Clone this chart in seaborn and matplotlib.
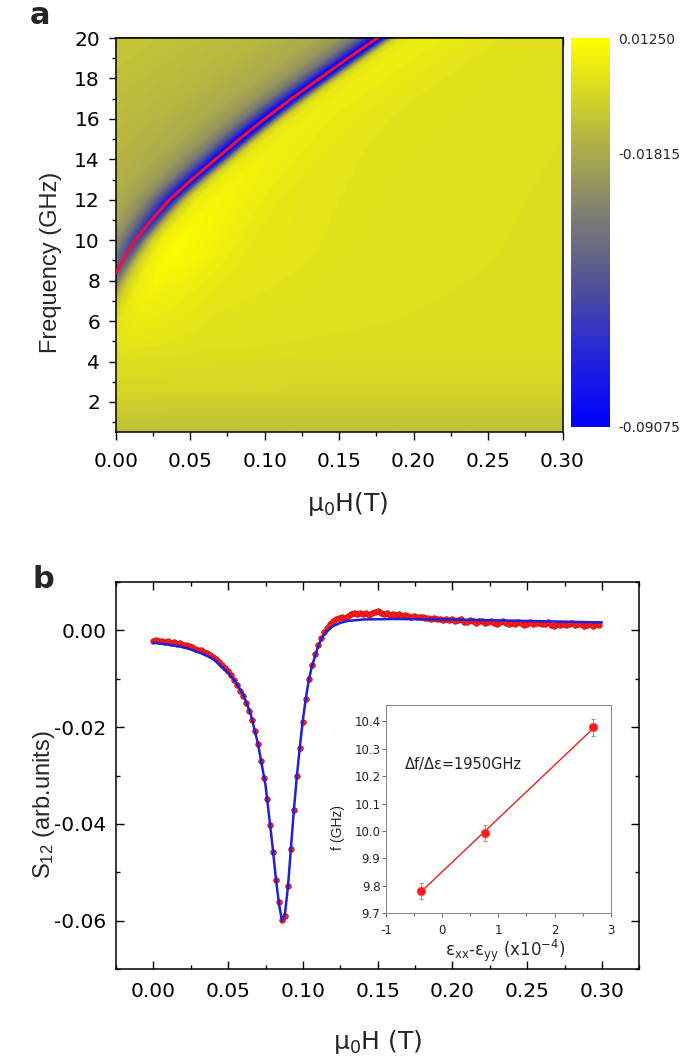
import matplotlib
matplotlib.use("Agg")
import matplotlib.pyplot as plt
import numpy as np
import seaborn as sns
from matplotlib.colors import LinearSegmentedColormap
from matplotlib.ticker import MultipleLocator, FormatStrFormatter

# ---------------- panel a : S12 map ----------------
# resonance line (red)
res_field = [0.0, 0.004, 0.013, 0.024, 0.036, 0.051, 0.067, 0.083, 0.100, 0.118, 0.137, 0.156, 0.1756, 0.182]
res_freq = [8.35, 8.9, 10.0, 11.0, 12.0, 13.0, 14.0, 15.0, 16.0, 17.0, 18.0, 19.0, 20.0, 20.3]

# S12 across the resonance: field offset from the line (T) -> value
prof_offset = [-0.30, -0.15, -0.08, -0.04, -0.025, -0.015, -0.008, -0.004, -0.001, 0.002,
               0.005, 0.008, 0.012, 0.018, 0.03, 0.05, 0.08, 0.15, 0.30]
prof_value = [-0.006, -0.009, -0.013, -0.018, -0.025, -0.037, -0.058, -0.078, -0.090, -0.088,
              -0.065, -0.030, -0.004, 0.006, 0.009, 0.007, 0.003, 0.001, 0.0]

# depth of the dip and strength of the bright lobe vs frequency
depth_freq = [0.5, 4.0, 6.0, 8.0, 9.0, 10.0, 12.0, 14.0, 16.0, 20.0]
dip_depth = [0.3, 0.3, 0.35, 0.45, 0.55, 0.65, 0.85, 0.97, 1.0, 1.0]
lobe_gain = [0.0, 0.1, 0.6, 1.0, 1.2, 1.2, 1.0, 0.8, 0.7, 0.7]

# background level vs frequency
base_freq = [0.5, 1.0, 1.5, 2.0, 2.5, 3.5, 5.0, 20.0]
base_level = [-0.010, -0.009, -0.007, -0.005, -0.003, -0.001, 0.0, 0.0]

cbar_ticks = [0.01250, -0.01815, -0.09075]

# ---------------- panel b : S12 trace ----------------
s12_field = np.round(np.arange(0, 0.2981, 0.002), 3)
s12_meas = [
    -0.0022, -0.0021, -0.0023, -0.0022, -0.0024, -0.0023, -0.0026, -0.0025, -0.0028, -0.0027,
    -0.0030, -0.0031, -0.0033, -0.0034, -0.0038, -0.0040, -0.0042, -0.0045, -0.0048, -0.0052,
    -0.0056, -0.0060, -0.0066, -0.0071, -0.0078, -0.0085, -0.0093, -0.0103, -0.0114, -0.0125,
    -0.0136, -0.0150, -0.0166, -0.0186, -0.0208, -0.0236, -0.0270, -0.0306, -0.0348, -0.0402,
    -0.0458, -0.0515, -0.0562, -0.0598, -0.0590, -0.0528, -0.0452, -0.0372, -0.0300, -0.0243,
    -0.0190, -0.0142, -0.0101, -0.0072, -0.0050, -0.0030, -0.0016, -0.0004, 0.0004, 0.0012,
    0.0018, 0.0022, 0.0025, 0.0027, 0.0026, 0.0030, 0.0033, 0.0035, 0.0034, 0.0036,
    0.0033, 0.0035, 0.0032, 0.0036, 0.0037, 0.0039, 0.0036, 0.0034, 0.0035, 0.0032,
    0.0034, 0.0031, 0.0033, 0.0030, 0.0032, 0.0029, 0.0028, 0.0030, 0.0027, 0.0028,
    0.0028, 0.0025, 0.0026, 0.0024, 0.0026, 0.0022, 0.0023, 0.0021, 0.0024, 0.0020,
    0.0022, 0.0019, 0.0021, 0.0022, 0.0017, 0.0016, 0.0020, 0.0018, 0.0015, 0.0018,
    0.0019, 0.0014, 0.0017, 0.0019, 0.0015, 0.0013, 0.0016, 0.0018, 0.0014, 0.0012,
    0.0015, 0.0013, 0.0017, 0.0014, 0.0010, 0.0013, 0.0016, 0.0012, 0.0014, 0.0015,
    0.0012, 0.0013, 0.0016, 0.0011, 0.0009, 0.0012, 0.0010, 0.0013, 0.0011, 0.0012,
    0.0014, 0.0010, 0.0012, 0.0013, 0.0009, 0.0011, 0.0013, 0.0008, 0.0012, 0.0010,
]

fit_field = [0.000, 0.010, 0.020, 0.030, 0.040, 0.050, 0.055, 0.060, 0.065, 0.070, 0.075,
             0.078, 0.080, 0.082, 0.084, 0.086, 0.088, 0.090, 0.092, 0.094, 0.096, 0.098,
             0.100, 0.102, 0.104, 0.106, 0.108, 0.110, 0.112, 0.115, 0.120, 0.125, 0.130,
             0.140, 0.160, 0.200, 0.250, 0.300]
fit_s12 = [-0.0026, -0.0030, -0.0035, -0.0045, -0.0059, -0.0088, -0.0107, -0.0132, -0.0172,
           -0.0235, -0.0320, -0.0400, -0.0455, -0.0515, -0.0565, -0.0600, -0.0585, -0.0530,
           -0.0450, -0.0370, -0.0300, -0.0240, -0.0185, -0.0140, -0.0102, -0.0075, -0.0055,
           -0.0035, -0.0020, -0.0005, 0.0008, 0.0015, 0.0019, 0.0022, 0.0023, 0.0022,
           0.0019, 0.0016]

# ---------------- inset : f vs strain ----------------
strain = [-0.385, 0.77, 2.69]
freq_strain = [9.782, 9.993, 10.378]
freq_err = [0.03, 0.03, 0.03]

# ---------------- style ----------------
sns.set_style("ticks")
plt.rcParams["font.family"] = ["DejaVu Sans"]
plt.rcParams["mathtext.fontset"] = "dejavusans"
plt.rcParams["mathtext.default"] = "regular"
plt.rcParams["axes.unicode_minus"] = False
plt.rcParams["axes.linewidth"] = 1.1
plt.rcParams["axes.edgecolor"] = "black"

fig = plt.figure(figsize=(6.85, 10.63), dpi=100)
W, Hpx = 685, 1063


def box(l, r, t, b):
    return [l / W, 1 - b / Hpx, (r - l) / W, (b - t) / Hpx]


ax_a = fig.add_axes(box(115.7, 562.5, 38, 432.3))
cax = fig.add_axes(box(571, 610, 38, 427))
ax_b = fig.add_axes(box(116, 639.3, 581.7, 969.3))
ax_in = fig.add_axes(box(386, 610.7, 705, 913.3))

# colormap blue -> grey -> yellow
cmap = LinearSegmentedColormap.from_list(
    "s12", [(0.0, "#0000ff"), (0.2, "#2828d7"), (0.36, "#505096"), (0.53, "#7a7a76"),
            (0.7, "#a8a850"), (1.0, "#ffff00")], N=128)

# build the map from the read resonance line and profile
hh = np.linspace(0, 0.30, 601)
ff = np.linspace(0.5, 20, 391)
r_f2 = np.array(res_freq) ** 2
h_line = np.interp(ff ** 2, r_f2, res_field)
low = ff < res_freq[0]
slope = (res_field[1] - res_field[0]) / (r_f2[1] - r_f2[0])
h_line[low] = res_field[0] + (ff[low] ** 2 - r_f2[0]) * slope
delta = hh[None, :] - h_line[:, None]
prof = np.interp(delta, prof_offset, prof_value)
z = (np.interp(ff, base_freq, base_level)[:, None]
     + np.minimum(prof, 0) * np.interp(ff, depth_freq, dip_depth)[:, None]
     + np.maximum(prof, 0) * np.interp(ff, depth_freq, lobe_gain)[:, None])

mesh = ax_a.pcolormesh(hh, ff, z, cmap=cmap, vmin=-0.09075, vmax=0.0125,
                       shading="gouraud", rasterized=True)
sns.lineplot(x=res_field, y=res_freq, ax=ax_a, color="#e8123a", linewidth=2.2,
             legend=False, zorder=5)
ax_a.set_xlim(0, 0.30)
ax_a.set_ylim(0.5, 20)
ax_a.xaxis.set_major_locator(MultipleLocator(0.05))
ax_a.xaxis.set_minor_locator(MultipleLocator(0.025))
ax_a.xaxis.set_major_formatter(FormatStrFormatter("%.2f"))
ax_a.yaxis.set_major_locator(MultipleLocator(2))
ax_a.yaxis.set_minor_locator(MultipleLocator(1))
ax_a.set_yticks(np.arange(2, 21, 2))
ax_a.tick_params(which="both", direction="out", width=1.0, labelsize=14.5, colors="black")
ax_a.tick_params(axis="x", which="major", length=5.5, pad=9)
ax_a.tick_params(axis="y", which="major", length=5.3, pad=6)
ax_a.tick_params(which="minor", length=3.2)
top = ax_a.secondary_xaxis("top")
top.xaxis.set_major_locator(MultipleLocator(0.05))
top.xaxis.set_minor_locator(MultipleLocator(0.025))
top.tick_params(which="both", direction="in", labeltop=False, width=1.0)
top.tick_params(which="major", length=4.8)
top.tick_params(which="minor", length=3.1)
ax_a.set_xlabel("μ$_0$H(T)", fontsize=18)
ax_a.xaxis.set_label_coords(0.52, -0.146)
ax_a.set_ylabel("Frequency (GHz)", fontsize=17, family=["Liberation Sans", "DejaVu Sans"])
ax_a.yaxis.set_label_coords(-0.12, 0.432)

cb = fig.colorbar(mesh, cax=cax, ticks=cbar_ticks)
cb.outline.set_visible(False)
cb.ax.yaxis.set_major_formatter(FormatStrFormatter("%.5f"))
cb.ax.tick_params(length=0, labelsize=10, pad=6)
cb.ax.minorticks_off()

# ---------------- panel b ----------------
sns.scatterplot(x=s12_field, y=s12_meas, ax=ax_b, color="#ff2020", edgecolor="#c80000",
                linewidth=0.5, s=16, zorder=3, legend=False)
sns.lineplot(x=fit_field, y=fit_s12, ax=ax_b, color="#2020d8", linewidth=1.8,
             legend=False, zorder=4)
ax_b.set_xlim(-0.025, 0.325)
ax_b.set_ylim(-0.07, 0.01)
ax_b.xaxis.set_major_locator(MultipleLocator(0.05))
ax_b.xaxis.set_minor_locator(MultipleLocator(0.025))
ax_b.xaxis.set_major_formatter(FormatStrFormatter("%.2f"))
ax_b.yaxis.set_major_locator(MultipleLocator(0.02))
ax_b.yaxis.set_minor_locator(MultipleLocator(0.01))
ax_b.yaxis.set_major_formatter(FormatStrFormatter("%.2f"))
ax_b.tick_params(which="both", direction="in", top=True, right=True, width=1.0,
                 labelsize=14.5, colors="black")
ax_b.tick_params(which="major", length=5.5)
ax_b.tick_params(which="minor", length=3.1)
ax_b.tick_params(axis="x", pad=9.5)
ax_b.tick_params(axis="y", pad=7)
ax_b.set_xlabel("μ$_0$H (T)", fontsize=18)
ax_b.xaxis.set_label_coords(0.5, -0.152)
ax_b.set_ylabel("S$_{12}$ (arb.units)", fontsize=17, family=["Liberation Sans", "DejaVu Sans"])
ax_b.yaxis.set_label_coords(-0.112, 0.424)

# ---------------- inset ----------------
ax_in.set_facecolor("white")
sns.regplot(x=strain, y=freq_strain, ax=ax_in, ci=None, scatter=False, truncate=True,
            line_kws={"color": "#e82020", "linewidth": 1.0})
ax_in.errorbar(strain, freq_strain, yerr=freq_err, fmt="none", ecolor="#ff5050",
               elinewidth=0.6, capsize=1.5, capthick=0.6, zorder=3)
sns.scatterplot(x=strain, y=freq_strain, ax=ax_in, color="#ff1a1a", edgecolor="#e06060",
                linewidth=0.6, s=38, zorder=4, legend=False)
ax_in.set_xlim(-1, 3)
ax_in.set_ylim(9.7, 10.46)
ax_in.xaxis.set_major_locator(MultipleLocator(1))
ax_in.xaxis.set_minor_locator(MultipleLocator(0.5))
ax_in.yaxis.set_major_locator(MultipleLocator(0.1))
ax_in.yaxis.set_major_formatter(FormatStrFormatter("%.1f"))
for sp in ax_in.spines.values():
    sp.set_color("#8c8c8c")
    sp.set_linewidth(0.8)
ax_in.tick_params(which="both", direction="out", color="#666666", width=0.7,
                  labelsize=8.5, labelcolor="#222222")
ax_in.tick_params(which="major", length=3.0)
ax_in.tick_params(which="minor", length=1.8)
ax_in.tick_params(axis="x", pad=5)
ax_in.tick_params(axis="y", pad=1)
ax_in.set_xlabel("ε$_{xx}$-ε$_{yy}$ (x10$^{-4}$)", fontsize=12)
ax_in.xaxis.set_label_coords(0.53, -0.118)
ax_in.set_ylabel("f (GHz)", fontsize=10, family=["Liberation Sans", "DejaVu Sans"])
ax_in.yaxis.set_label_coords(-0.182, 0.41)
ax_in.text(0.085, 0.712, "Δf/Δε=1950GHz", transform=ax_in.transAxes, fontsize=10.5,
           ha="left", va="center", color="#222222")

# panel letters
fig.text(40 / W, 1 - 16 / Hpx, "a", fontsize=22, fontweight="bold", ha="center", va="center")
fig.text(43 / W, 1 - 580 / Hpx, "b", fontsize=22, fontweight="bold", ha="center", va="center")

fig.savefig("out.png", dpi=100)
